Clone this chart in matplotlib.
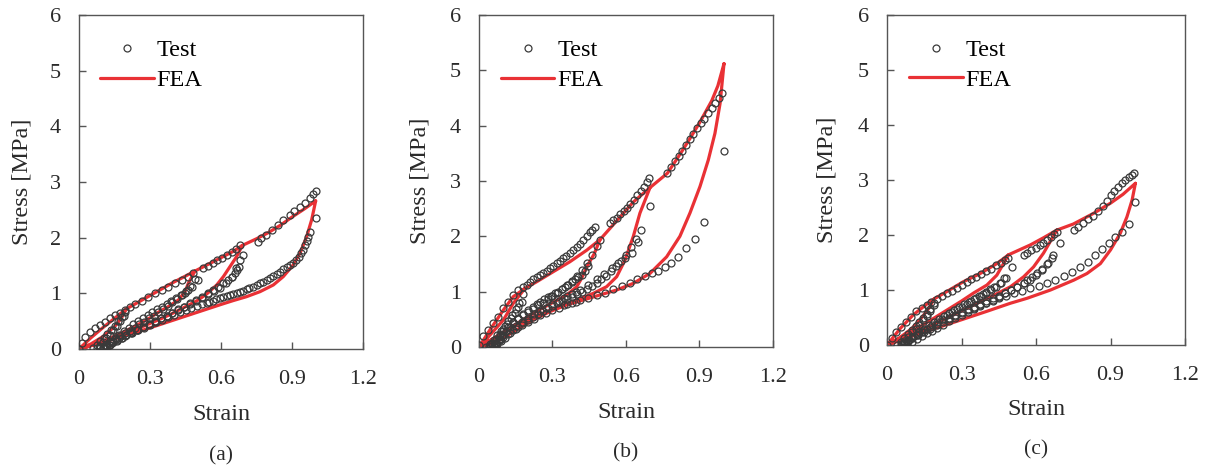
import numpy as np
import matplotlib
matplotlib.use("Agg")
import matplotlib.pyplot as plt

plt.rcParams['font.family'] = ['Liberation Serif', 'DejaVu Serif']

# ---------------- panel (a) ----------------
a_test_strain = [
    0.0, 0.012, 0.025, 0.046, 0.068, 0.089, 0.11, 0.131, 0.152, 0.173, 0.194,
    0.19, 0.175, 0.16, 0.145, 0.13, 0.115, 0.1, 0.088, 0.078,
    0.06, 0.075, 0.09, 0.105, 0.12, 0.135, 0.15, 0.165, 0.18, 0.195,
    0.215, 0.237, 0.265, 0.293, 0.321, 0.349, 0.377, 0.406, 0.434, 0.462, 0.483,
    0.504, 0.476, 0.462, 0.448, 0.434, 0.415, 0.395, 0.375, 0.355, 0.335, 0.315, 0.295,
    0.275, 0.255, 0.235, 0.215, 0.195, 0.175, 0.155, 0.135, 0.115, 0.1,
    0.09, 0.11, 0.13, 0.15, 0.17, 0.19, 0.21, 0.23, 0.25, 0.27, 0.29, 0.31, 0.33, 0.35,
    0.37, 0.39, 0.41, 0.43, 0.45, 0.47, 0.49,
    0.525, 0.545, 0.565, 0.585, 0.605, 0.625, 0.645, 0.665, 0.68,
    0.694, 0.677, 0.666, 0.659, 0.645, 0.631, 0.61, 0.589, 0.567, 0.545, 0.52, 0.495,
    0.47, 0.445, 0.42, 0.395, 0.37, 0.345, 0.32, 0.295, 0.27, 0.245, 0.22, 0.195, 0.17,
    0.145, 0.125, 0.11,
    0.12, 0.14, 0.16, 0.18, 0.2, 0.22, 0.245, 0.27, 0.295, 0.32, 0.345, 0.37, 0.395,
    0.42, 0.445, 0.47, 0.495, 0.52, 0.545, 0.57, 0.595, 0.62, 0.645, 0.665, 0.68,
    0.757, 0.77, 0.79, 0.814, 0.84, 0.863, 0.89, 0.91, 0.934, 0.955, 0.976, 0.99, 1.0,
    1.0, 0.976, 0.969, 0.962, 0.953, 0.946, 0.938, 0.928, 0.917, 0.905, 0.89, 0.877,
    0.863, 0.849, 0.835, 0.821, 0.807, 0.793, 0.779, 0.765, 0.75, 0.736, 0.72, 0.708,
    0.694, 0.68, 0.666, 0.652, 0.638, 0.624, 0.61, 0.596, 0.58, 0.567, 0.55, 0.539,
    0.52, 0.5, 0.475, 0.45, 0.425, 0.4, 0.375, 0.35, 0.325, 0.3, 0.275, 0.25, 0.225,
    0.2, 0.18, 0.16, 0.145, 0.13, 0.115, 0.105,
]
a_test_stress = [
    0.0, 0.1, 0.22, 0.31, 0.37, 0.43, 0.49, 0.55, 0.61, 0.65, 0.70,
    0.6, 0.5, 0.42, 0.34, 0.26, 0.19, 0.12, 0.06, 0.01,
    0.02, 0.08, 0.14, 0.2, 0.27, 0.34, 0.42, 0.5, 0.58, 0.66,
    0.75, 0.81, 0.87, 0.94, 1.0, 1.06, 1.12, 1.18, 1.24, 1.30, 1.36,
    1.24, 1.12, 1.06, 1.01, 0.97, 0.9, 0.84, 0.78, 0.72, 0.66, 0.6, 0.55,
    0.49, 0.44, 0.38, 0.33, 0.28, 0.23, 0.18, 0.12, 0.06, 0.01,
    0.02, 0.08, 0.14, 0.2, 0.26, 0.32, 0.38, 0.44, 0.5, 0.56, 0.61, 0.66, 0.71, 0.76,
    0.81, 0.86, 0.91, 0.97, 1.04, 1.13, 1.25,
    1.45, 1.49, 1.54, 1.59, 1.64, 1.69, 1.74, 1.8, 1.87,
    1.69, 1.48, 1.42, 1.36, 1.30, 1.24, 1.18, 1.12, 1.06, 1.0, 0.94, 0.88,
    0.82, 0.76, 0.71, 0.65, 0.6, 0.55, 0.49, 0.44, 0.39, 0.34, 0.29, 0.24, 0.19,
    0.13, 0.07, 0.02,
    0.05, 0.1, 0.15, 0.2, 0.25, 0.3, 0.35, 0.4, 0.45, 0.5, 0.55, 0.6, 0.65,
    0.7, 0.75, 0.8, 0.86, 0.92, 0.98, 1.04, 1.1, 1.18, 1.3, 1.45, 1.6,
    1.93, 1.99, 2.05, 2.14, 2.23, 2.32, 2.41, 2.48, 2.55, 2.63, 2.71, 2.78, 2.84,
    2.36, 2.11, 2.02, 1.94, 1.87, 1.78, 1.72, 1.65, 1.60, 1.55, 1.51, 1.48,
    1.43, 1.39, 1.35, 1.31, 1.27, 1.24, 1.21, 1.18, 1.15, 1.12, 1.09, 1.07,
    1.05, 1.03, 1.01, 0.99, 0.97, 0.95, 0.93, 0.91, 0.89, 0.87, 0.85, 0.83,
    0.81, 0.78, 0.74, 0.7, 0.66, 0.61, 0.57, 0.52, 0.48, 0.43, 0.38, 0.34, 0.29,
    0.25, 0.2, 0.16, 0.12, 0.08, 0.04, 0.01,
]
# FEA: loading envelope, then unloading branches separated by None
a_fea_strain = [
    0, 0.05, 0.1, 0.15, 0.2, 0.25, 0.3, 0.35, 0.4, 0.45, 0.49, 0.55, 0.6, 0.65, 0.69,
    0.75, 0.8, 0.85, 0.9, 0.95, 1.0, None,
    0.2, 0.18, 0.15, 0.1, 0.05, 0, None,
    0.49, 0.462, 0.448, 0.42, 0.377, 0.335, 0.3, 0.25, 0.2, 0.15, 0.1, 0.05, 0, None,
    0.69, 0.666, 0.638, 0.61, 0.582, 0.54, 0.5, 0.45, 0.4, 0.35, 0.3, 0.25, 0.2, 0.15,
    0.1, 0.05, 0, None,
    1.0, 0.983, 0.962, 0.934, 0.905, 0.863, 0.821, 0.765, 0.708, 0.652, 0.6, 0.55, 0.5,
    0.45, 0.4, 0.35, 0.3, 0.25, 0.2, 0.15, 0.1, 0.05, 0,
]
a_fea_stress = [
    0, 0.2, 0.38, 0.55, 0.72, 0.84, 0.96, 1.08, 1.2, 1.31, 1.40, 1.53, 1.64, 1.75, 1.86,
    1.98, 2.09, 2.22, 2.37, 2.51, 2.66, None,
    0.72, 0.56, 0.4, 0.22, 0.09, 0, None,
    1.40, 1.18, 1.03, 0.88, 0.76, 0.66, 0.56, 0.44, 0.33, 0.23, 0.14, 0.06, 0, None,
    1.86, 1.66, 1.48, 1.30, 1.15, 0.99, 0.87, 0.76, 0.65, 0.55, 0.46, 0.37, 0.29, 0.21,
    0.13, 0.06, 0, None,
    2.66, 2.32, 2.02, 1.72, 1.51, 1.30, 1.15, 1.03, 0.94, 0.87, 0.8, 0.73, 0.66,
    0.59, 0.52, 0.45, 0.38, 0.31, 0.25, 0.18, 0.12, 0.06, 0,
]

# ---------------- panel (b) ----------------
b_test_strain = [
    0.0, 0.018, 0.038, 0.058, 0.079, 0.1, 0.12, 0.14, 0.16, 0.181, 0.195,
    0.174, 0.16, 0.147, 0.13, 0.115, 0.1, 0.085, 0.07, 0.055, 0.04,
    0.03, 0.045, 0.06, 0.075, 0.09, 0.105, 0.12, 0.135, 0.15, 0.165, 0.18,
    0.208, 0.222, 0.236, 0.249, 0.262, 0.276, 0.29, 0.303, 0.317, 0.33, 0.344, 0.357,
    0.371, 0.385, 0.399, 0.412, 0.426, 0.44, 0.453, 0.463, 0.473,
    0.494, 0.446, 0.432, 0.419, 0.405, 0.392, 0.378, 0.365, 0.351, 0.337, 0.323, 0.31,
    0.295, 0.28, 0.265, 0.25, 0.235, 0.22, 0.2, 0.18, 0.16, 0.14, 0.12, 0.1, 0.085,
    0.07, 0.055, 0.045,
    0.05, 0.065, 0.08, 0.095, 0.11, 0.125, 0.14, 0.16, 0.18, 0.2, 0.22, 0.24, 0.26,
    0.28, 0.3, 0.32, 0.34, 0.36, 0.38, 0.4, 0.42, 0.44, 0.46, 0.48,
    0.535, 0.549, 0.562, 0.576, 0.59, 0.604, 0.618, 0.632, 0.646, 0.66, 0.674, 0.687, 0.695,
    0.698, 0.65, 0.623, 0.596, 0.569, 0.541, 0.51, 0.48, 0.446, 0.412, 0.395, 0.378,
    0.36, 0.345, 0.325, 0.3, 0.275, 0.25, 0.225, 0.2, 0.175, 0.15, 0.125, 0.1, 0.085,
    0.07, 0.06,
    0.06, 0.075, 0.09, 0.105, 0.12, 0.14, 0.16, 0.18, 0.2, 0.22, 0.24, 0.26, 0.28,
    0.3, 0.32, 0.34, 0.36, 0.38, 0.4, 0.42, 0.44, 0.46, 0.48, 0.5, 0.52, 0.54, 0.56,
    0.58, 0.6, 0.62, 0.64, 0.66,
    0.769, 0.784, 0.8, 0.815, 0.83, 0.845, 0.86, 0.875, 0.889, 0.905, 0.92, 0.935,
    0.95, 0.965, 0.98, 0.99,
    1.0, 0.918, 0.88, 0.845, 0.814, 0.782, 0.759, 0.732, 0.705, 0.678, 0.646, 0.616,
    0.582, 0.548, 0.514, 0.48, 0.446, 0.412, 0.395, 0.378, 0.36, 0.345, 0.325, 0.3,
    0.275, 0.25, 0.225, 0.2, 0.175, 0.15, 0.125, 0.1, 0.085, 0.07, 0.06,
]
b_test_stress = [
    0.04, 0.19, 0.31, 0.43, 0.55, 0.70, 0.82, 0.94, 1.03, 1.09, 1.12,
    0.82, 0.73, 0.62, 0.52, 0.42, 0.33, 0.24, 0.15, 0.07, 0.01,
    0.0, 0.06, 0.13, 0.21, 0.29, 0.38, 0.47, 0.57, 0.68, 0.8, 0.95,
    1.18, 1.22, 1.26, 1.30, 1.33, 1.38, 1.42, 1.46, 1.51, 1.55, 1.60, 1.64,
    1.69, 1.75, 1.81, 1.87, 1.93, 2.0, 2.08, 2.12, 2.17,
    1.93, 1.46, 1.38, 1.30, 1.26, 1.22, 1.17, 1.12, 1.08, 1.04, 1.0, 0.97,
    0.93, 0.9, 0.86, 0.82, 0.78, 0.73, 0.66, 0.59, 0.52, 0.45, 0.37, 0.28, 0.2,
    0.13, 0.05, 0.0,
    0.02, 0.08, 0.15, 0.22, 0.29, 0.36, 0.43, 0.5, 0.57, 0.63, 0.69, 0.75, 0.8,
    0.86, 0.92, 0.98, 1.05, 1.12, 1.2, 1.29, 1.4, 1.52, 1.66, 1.82,
    2.24, 2.29, 2.34, 2.4, 2.46, 2.52, 2.59, 2.66, 2.74, 2.82, 2.9, 2.98, 3.05,
    2.55, 1.89, 1.69, 1.60, 1.51, 1.42, 1.32, 1.22, 1.12, 1.03, 0.99, 0.96,
    0.92, 0.88, 0.84, 0.77, 0.71, 0.65, 0.59, 0.52, 0.45, 0.38, 0.3, 0.22, 0.15,
    0.08, 0.02,
    0.0, 0.05, 0.11, 0.17, 0.23, 0.3, 0.37, 0.43, 0.49, 0.55, 0.6, 0.65, 0.7,
    0.74, 0.79, 0.83, 0.87, 0.91, 0.95, 1.0, 1.05, 1.1, 1.16, 1.22, 1.29, 1.37, 1.46,
    1.56, 1.67, 1.8, 1.95, 2.12,
    3.15, 3.25, 3.36, 3.46, 3.55, 3.65, 3.75, 3.85, 3.95, 4.04, 4.12, 4.22,
    4.32, 4.41, 4.5, 4.59,
    3.55, 2.25, 1.95, 1.78, 1.63, 1.51, 1.45, 1.38, 1.33, 1.28, 1.22, 1.16,
    1.10, 1.04, 0.98, 0.94, 0.89, 0.85, 0.82, 0.8, 0.77, 0.75, 0.71, 0.67,
    0.62, 0.57, 0.51, 0.45, 0.39, 0.32, 0.25, 0.18, 0.12, 0.06, 0.01,
]
b_fea_strain = [
    0, 0.045, 0.1, 0.14, 0.188, 0.236, 0.303, 0.371, 0.44, 0.494, 0.562, 0.63, 0.698,
    0.769, 0.82, 0.86, 0.9, 0.95, 0.975, 1.0, None,
    0.188, 0.14, 0.1, 0.058, 0.018, 0, None,
    0.494, 0.47, 0.44, 0.42, 0.399, 0.358, 0.3, 0.25, 0.2, 0.15, 0.1, 0.05, 0, None,
    0.698, 0.657, 0.63, 0.596, 0.562, 0.521, 0.467, 0.4, 0.35, 0.3, 0.25, 0.2, 0.15,
    0.1, 0.05, 0, None,
    1.0, 0.984, 0.963, 0.936, 0.902, 0.861, 0.82, 0.766, 0.698, 0.63, 0.562, 0.494,
    0.426, 0.358, 0.29, 0.222, 0.154, 0.086, 0.018, 0,
]
b_fea_stress = [
    0, 0.31, 0.67, 0.91, 1.06, 1.18, 1.36, 1.54, 1.75, 1.94, 2.28, 2.62, 2.88,
    3.14, 3.48, 3.76, 4.05, 4.45, 4.72, 5.12, None,
    1.06, 0.79, 0.49, 0.28, 0.08, 0, None,
    1.94, 1.68, 1.45, 1.25, 1.09, 0.94, 0.8, 0.68, 0.55, 0.41, 0.27, 0.13, 0, None,
    2.88, 2.42, 2.0, 1.57, 1.27, 1.09, 0.97, 0.85, 0.77, 0.68, 0.59, 0.49, 0.38,
    0.26, 0.13, 0, None,
    5.12, 4.4, 3.86, 3.38, 2.9, 2.42, 2.0, 1.63, 1.33, 1.15, 1.03, 0.94,
    0.85, 0.76, 0.64, 0.49, 0.31, 0.13, 0.01, 0,
]

# ---------------- panel (c) ----------------
c_test_strain = [
    0.0, 0.02, 0.038, 0.058, 0.078, 0.098, 0.118, 0.139, 0.159, 0.179,
    0.19, 0.175, 0.16, 0.145, 0.13, 0.115, 0.1, 0.085, 0.07, 0.055,
    0.04, 0.055, 0.07, 0.085, 0.1, 0.115, 0.13, 0.145, 0.16, 0.175, 0.19,
    0.2, 0.22, 0.24, 0.26, 0.28, 0.3, 0.32, 0.34, 0.36, 0.38, 0.4, 0.42, 0.44, 0.46,
    0.475, 0.489,
    0.503, 0.469, 0.455, 0.43, 0.415, 0.4, 0.385, 0.37, 0.35, 0.33, 0.31, 0.29, 0.27,
    0.25, 0.23, 0.21, 0.19, 0.17, 0.15, 0.13, 0.11, 0.09, 0.075,
    0.06, 0.08, 0.1, 0.12, 0.14, 0.16, 0.18, 0.2, 0.22, 0.24, 0.26, 0.28, 0.3, 0.32,
    0.34, 0.36, 0.38, 0.4, 0.42, 0.44, 0.46, 0.48,
    0.55, 0.565, 0.58, 0.6, 0.615, 0.63, 0.645, 0.66, 0.672, 0.684,
    0.698, 0.664, 0.644, 0.623, 0.603, 0.583, 0.565, 0.55, 0.525, 0.5, 0.475, 0.45,
    0.425, 0.4, 0.375, 0.35, 0.325, 0.3, 0.275, 0.25, 0.225, 0.2, 0.175, 0.15, 0.125,
    0.1, 0.085, 0.07,
    0.08, 0.1, 0.12, 0.14, 0.16, 0.18, 0.2, 0.225, 0.25, 0.275, 0.3, 0.325, 0.35,
    0.375, 0.4, 0.425, 0.45, 0.475, 0.5, 0.525, 0.55, 0.575, 0.6, 0.625, 0.65, 0.67,
    0.752, 0.77, 0.79, 0.81, 0.83, 0.85, 0.87, 0.885, 0.9, 0.915, 0.93, 0.945, 0.96,
    0.975, 0.985, 0.994,
    1.0, 0.973, 0.946, 0.919, 0.892, 0.865, 0.839, 0.808, 0.778, 0.745, 0.711, 0.677,
    0.644, 0.61, 0.577, 0.543, 0.51, 0.48, 0.45, 0.425, 0.4, 0.375, 0.35, 0.325, 0.3,
    0.275, 0.25, 0.225, 0.2, 0.175, 0.15, 0.125, 0.1, 0.085, 0.07,
]
c_test_stress = [
    0.0, 0.12, 0.24, 0.33, 0.42, 0.51, 0.61, 0.67, 0.73, 0.79,
    0.72, 0.62, 0.53, 0.45, 0.37, 0.3, 0.23, 0.15, 0.08, 0.02,
    0.0, 0.06, 0.13, 0.2, 0.27, 0.34, 0.41, 0.49, 0.57, 0.66, 0.76,
    0.84, 0.89, 0.94, 0.99, 1.04, 1.1, 1.15, 1.2, 1.24, 1.29, 1.34, 1.39, 1.45, 1.5,
    1.54, 1.58,
    1.42, 1.21, 1.12, 1.06, 1.01, 0.97, 0.93, 0.89, 0.84, 0.79, 0.75, 0.7, 0.64,
    0.58, 0.53, 0.47, 0.41, 0.36, 0.3, 0.23, 0.16, 0.09, 0.03,
    0.0, 0.06, 0.12, 0.18, 0.24, 0.3, 0.36, 0.42, 0.48, 0.54, 0.6, 0.65, 0.7, 0.75,
    0.8, 0.85, 0.9, 0.95, 1.0, 1.06, 1.13, 1.21,
    1.64, 1.68, 1.72, 1.77, 1.81, 1.86, 1.91, 1.96, 2.01, 2.06,
    1.85, 1.58, 1.48, 1.39, 1.31, 1.24, 1.18, 1.13, 1.06, 1.0, 0.95, 0.9,
    0.85, 0.8, 0.75, 0.7, 0.65, 0.6, 0.55, 0.5, 0.45, 0.39, 0.33, 0.27, 0.2,
    0.14, 0.08, 0.03,
    0.0, 0.06, 0.11, 0.16, 0.21, 0.26, 0.31, 0.37, 0.43, 0.49, 0.55, 0.6, 0.66,
    0.71, 0.77, 0.82, 0.88, 0.94, 1.0, 1.06, 1.12, 1.19, 1.27, 1.37, 1.5, 1.64,
    2.09, 2.15, 2.22, 2.29, 2.35, 2.44, 2.53, 2.62, 2.72, 2.8, 2.87, 2.94, 3.0,
    3.06, 3.1, 3.13,
    2.6, 2.2, 2.06, 1.96, 1.85, 1.74, 1.64, 1.51, 1.42, 1.33, 1.25, 1.19,
    1.13, 1.08, 1.03, 0.98, 0.94, 0.89, 0.85, 0.8, 0.76, 0.72, 0.67, 0.63, 0.58,
    0.53, 0.47, 0.42, 0.36, 0.3, 0.24, 0.18, 0.12, 0.07, 0.03,
]
c_fea_strain = [
    0, 0.053, 0.106, 0.173, 0.19, 0.24, 0.307, 0.375, 0.442, 0.489, 0.577, 0.63, 0.684,
    0.75, 0.83, 0.9, 0.95, 1.0, None,
    0.19, 0.17, 0.14, 0.1, 0.05, 0, None,
    0.489, 0.469, 0.442, 0.402, 0.35, 0.3, 0.25, 0.2, 0.15, 0.1, 0.05, 0, None,
    0.684, 0.63, 0.59, 0.55, 0.497, 0.45, 0.4, 0.35, 0.3, 0.25, 0.2, 0.15, 0.1, 0.05,
    0, None,
    1.0, 0.987, 0.966, 0.939, 0.9, 0.859, 0.805, 0.752, 0.658, 0.564, 0.497, 0.4, 0.3,
    0.2, 0.1, 0,
]
c_fea_stress = [
    0, 0.3, 0.55, 0.79, 0.84, 0.97, 1.15, 1.3, 1.48, 1.64, 1.82, 1.95, 2.09,
    2.2, 2.39, 2.58, 2.74, 2.94, None,
    0.84, 0.68, 0.5, 0.3, 0.13, 0, None,
    1.64, 1.48, 1.27, 1.09, 0.95, 0.8, 0.66, 0.52, 0.38, 0.25, 0.12, 0, None,
    2.09, 1.67, 1.42, 1.24, 1.06, 0.95, 0.84, 0.73, 0.62, 0.51, 0.4, 0.29, 0.19, 0.09,
    0, None,
    2.94, 2.64, 2.33, 2.03, 1.73, 1.48, 1.3, 1.18, 1.0, 0.85, 0.76, 0.61, 0.46,
    0.31, 0.16, 0,
]

panel_labels = ['(a)', '(b)', '(c)']
x_ticks = [0, 0.3, 0.6, 0.9, 1.2]
x_tick_labels = ['0', '0.3', '0.6', '0.9', '1.2']
y_ticks = [0, 1, 2, 3, 4, 5, 6]

panels = [
    (a_test_strain, a_test_stress, a_fea_strain, a_fea_stress),
    (b_test_strain, b_test_stress, b_fea_strain, b_fea_stress),
    (c_test_strain, c_test_stress, c_fea_strain, c_fea_stress),
]

# axes boxes in figure fractions [left, bottom, width, height]
boxes = [
    [0.0654, 0.2527, 0.2351, 0.7152],
    [0.3965, 0.2570, 0.2434, 0.7109],
    [0.7343, 0.2612, 0.2467, 0.7066],
]

fig = plt.figure(figsize=(12.08, 4.67), dpi=100)

def to_float(vals):
    return np.array([np.nan if v is None else v for v in vals], dtype=float)

for box, (tx, ty, fx, fy), lab in zip(boxes, panels, panel_labels):
    ax = fig.add_axes(box)
    ax.plot(to_float(fx), to_float(fy), color='#e8262a', lw=2.3, alpha=0.95,
            label='FEA', zorder=2, solid_capstyle='round')
    ax.plot(tx, ty, ls='none', marker='o', ms=5, mfc='none', mec='#3a3a3a',
            mew=0.9, label='Test', zorder=3)
    ax.set_xlim(0, 1.2)
    ax.set_ylim(0, 6)
    ax.set_xticks(x_ticks)
    ax.set_xticklabels(x_tick_labels)
    ax.set_yticks(y_ticks)
    ax.tick_params(direction='in', length=5, width=1, color='#555555',
                   labelsize=16, labelcolor='#2a2a2a')
    ax.tick_params(axis='x', pad=15)
    ax.tick_params(axis='y', pad=13)
    for sp in ax.spines.values():
        sp.set_color('#555555')
        sp.set_linewidth(1.0)
    ax.set_xlabel('Strain', fontsize=17.5, color='#2a2a2a')
    ax.set_ylabel('Stress [MPa]', fontsize=17.5, color='#2a2a2a')
    ax.xaxis.set_label_coords(0.5, -0.165)
    ax.yaxis.set_label_coords(-0.165, 0.5)
    handles, labels = ax.get_legend_handles_labels()
    ax.legend(handles[::-1], labels[::-1], loc='upper left',
              bbox_to_anchor=(0.075, 0.927), frameon=False, fontsize=17.5,
              handlelength=2.2, handletextpad=0.12, labelspacing=0.32,
              borderpad=0, borderaxespad=0)
    ax.text(0.5, -0.29, lab, transform=ax.transAxes, ha='center', va='top',
            fontsize=15.5, color='#2a2a2a')

fig.savefig('out.png', dpi=100)
